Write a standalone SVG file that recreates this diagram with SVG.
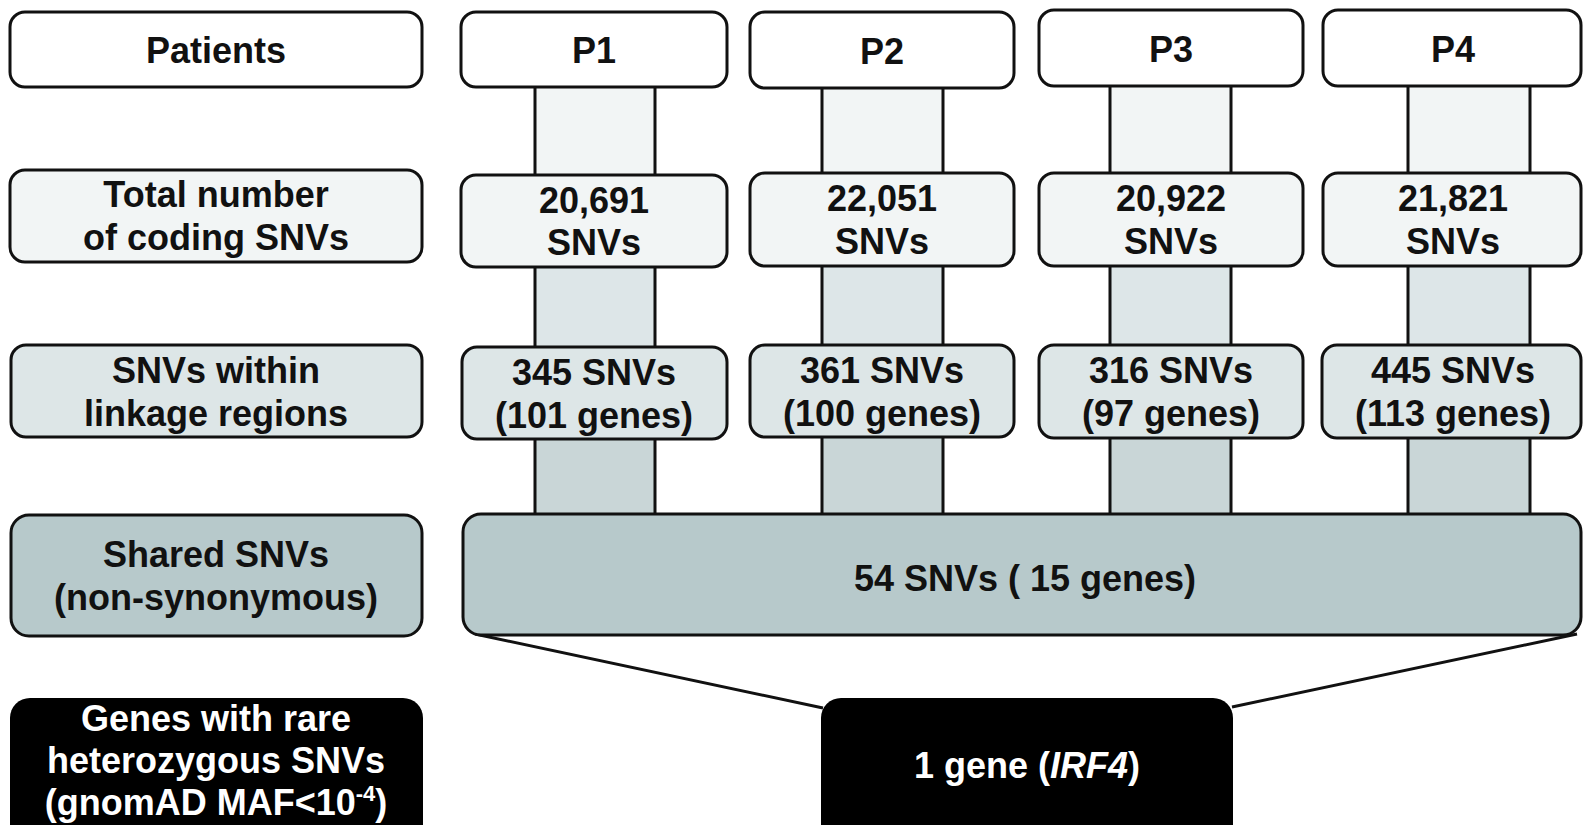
<svg xmlns="http://www.w3.org/2000/svg" width="1584" height="825" viewBox="0 0 1584 825">
<style>
.box{stroke:#111;stroke-width:3}
.w{fill:#ffffff}
.l1{fill:#f2f5f5}
.l2{fill:#dde6e7}
.l3{fill:#b7c9cb}
.blk{fill:#000}
.b1{fill:#f2f5f5}
.b2{fill:#dde6e8}
.b3{fill:#c9d6d7}
.edge{stroke:#111;stroke-width:3;fill:none}
text{font-family:"Liberation Sans",Arial,sans-serif;font-weight:bold;font-size:36px;text-anchor:middle;fill:#111}
text.wt{fill:#fff}
</style>
<rect width="1584" height="825" fill="#fff"/>
<g id="connectors">
  <g id="band-p1">
    <rect class="b1" x="535" y="86" width="120" height="90"/>
    <rect class="b2" x="535" y="266" width="120" height="82"/>
    <rect class="b3" x="535" y="438" width="120" height="77"/>
    <path class="edge" d="M535 86V515M655 86V515"/>
  </g>
  <g id="band-p2">
    <rect class="b1" x="822" y="87" width="121" height="87"/>
    <rect class="b2" x="822" y="265" width="121" height="81"/>
    <rect class="b3" x="822" y="436" width="121" height="79"/>
    <path class="edge" d="M822 87V515M943 87V515"/>
  </g>
  <g id="band-p3">
    <rect class="b1" x="1110" y="85" width="121" height="89"/>
    <rect class="b2" x="1110" y="265" width="121" height="81"/>
    <rect class="b3" x="1110" y="437" width="121" height="78"/>
    <path class="edge" d="M1110 85V515M1231 85V515"/>
  </g>
  <g id="band-p4">
    <rect class="b1" x="1408" y="85" width="122" height="89"/>
    <rect class="b2" x="1408" y="265" width="122" height="81"/>
    <rect class="b3" x="1408" y="437" width="122" height="78"/>
    <path class="edge" d="M1408 85V515M1530 85V515"/>
  </g>
  <path class="edge" stroke-width="3.5" d="M475 634L823 708M1577 634L1232 707"/>
</g>

<g id="label-patients">
  <rect class="box w" x="10" y="12" width="412" height="75" rx="15"/>
  <text x="216" y="63">Patients</text>
</g>
<g id="p1">
  <rect class="box w" x="461" y="12" width="266" height="75" rx="15"/>
  <text x="594" y="63">P1</text>
</g>
<g id="p2">
  <rect class="box w" x="750" y="12" width="264" height="76" rx="15"/>
  <text x="882" y="64">P2</text>
</g>
<g id="p3">
  <rect class="box w" x="1039" y="10" width="264" height="76" rx="15"/>
  <text x="1171" y="62">P3</text>
</g>
<g id="p4">
  <rect class="box w" x="1323" y="10" width="258" height="76" rx="15"/>
  <text x="1453" y="62">P4</text>
</g>

<g id="label-total">
  <rect class="box l1" x="10" y="170" width="412" height="92" rx="15"/>
  <text x="216" y="207">Total number</text>
  <text x="216" y="250">of coding SNVs</text>
</g>
<g id="total-p1">
  <rect class="box l1" x="461" y="175" width="266" height="92" rx="15"/>
  <text x="594" y="213">20,691</text>
  <text x="594" y="255">SNVs</text>
</g>
<g id="total-p2">
  <rect class="box l1" x="750" y="173" width="264" height="93" rx="15"/>
  <text x="882" y="211">22,051</text>
  <text x="882" y="254">SNVs</text>
</g>
<g id="total-p3">
  <rect class="box l1" x="1039" y="173" width="264" height="93" rx="15"/>
  <text x="1171" y="211">20,922</text>
  <text x="1171" y="254">SNVs</text>
</g>
<g id="total-p4">
  <rect class="box l1" x="1323" y="173" width="258" height="93" rx="15"/>
  <text x="1453" y="211">21,821</text>
  <text x="1453" y="254">SNVs</text>
</g>

<g id="label-linkage">
  <rect class="box l2" x="11" y="345" width="411" height="92" rx="15"/>
  <text x="216" y="383">SNVs within</text>
  <text x="216" y="426">linkage regions</text>
</g>
<g id="link-p1">
  <rect class="box l2" x="462" y="347" width="265" height="92" rx="15"/>
  <text x="594" y="385">345 SNVs</text>
  <text x="594" y="428">(101 genes)</text>
</g>
<g id="link-p2">
  <rect class="box l2" x="750" y="345" width="264" height="92" rx="15"/>
  <text x="882" y="383">361 SNVs</text>
  <text x="882" y="426">(100 genes)</text>
</g>
<g id="link-p3">
  <rect class="box l2" x="1039" y="345" width="264" height="93" rx="15"/>
  <text x="1171" y="383">316 SNVs</text>
  <text x="1171" y="426">(97 genes)</text>
</g>
<g id="link-p4">
  <rect class="box l2" x="1322" y="345" width="259" height="93" rx="15"/>
  <text x="1453" y="383">445 SNVs</text>
  <text x="1453" y="426">(113 genes)</text>
</g>

<g id="label-shared">
  <rect class="box l3" x="11" y="515" width="411" height="121" rx="18"/>
  <text x="216" y="567">Shared SNVs</text>
  <text x="216" y="610">(non-synonymous)</text>
</g>
<g id="shared">
  <rect class="box l3" x="463" y="514" width="1118" height="121" rx="18"/>
  <text x="1025" y="591">54 SNVs ( 15 genes)</text>
</g>

<g id="label-rare">
  <rect class="blk" x="10" y="698" width="413" height="150" rx="20"/>
  <text class="wt" x="216" y="731">Genes with rare</text>
  <text class="wt" x="216" y="773">heterozygous SNVs</text>
  <text class="wt" x="216" y="815">(gnomAD MAF&lt;10<tspan font-size="22" dy="-14">-4</tspan><tspan dy="14">)</tspan></text>
</g>
<g id="irf4">
  <rect class="blk" x="821" y="698" width="412" height="150" rx="20"/>
  <text class="wt" x="1027" y="778">1 gene (<tspan font-style="italic">IRF4</tspan>)</text>
</g>
</svg>
